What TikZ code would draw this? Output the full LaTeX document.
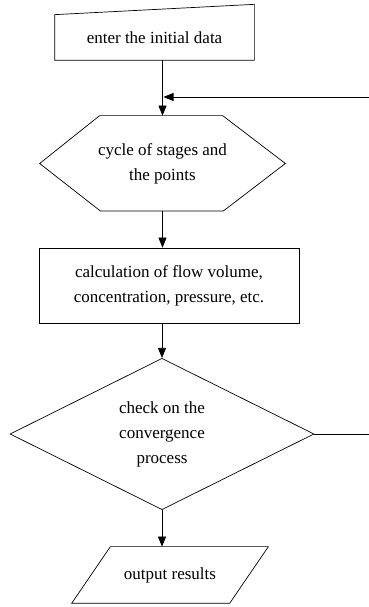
\documentclass[tikz,border=0pt]{standalone}
\usepackage{fontspec}
\setmainfont{Liberation Serif}
\usetikzlibrary{shapes, arrows.meta}

\begin{document}
\begin{tikzpicture}[x=1pt, y=1pt, line width=0.7pt,
  every node/.style={font=\fontsize{17}{25}\selectfont, align=center, inner sep=0pt},
  flow/.style={-{Triangle[length=10pt, width=8pt]}}]
\useasboundingbox (0,0) rectangle (368,607); %page size
\node[minimum width=199pt, minimum height=45pt] (input) at (154.5,569.5) {enter the initial data};
\node[minimum width=245pt, minimum height=95pt] (stages) at (162.5,443.5) {cycle of stages and\\the points};
\node[draw, minimum width=260pt, minimum height=75pt] (calc) at (169,321.5) {calculation of flow volume,\\concentration, pressure, etc.};
\node[draw, diamond, minimum width=304pt, minimum height=148pt] (check) at (162,173) {check on the\\convergence\\process};
\node[minimum width=196pt, minimum height=56pt] (output) at (170,32) {output results};
\coordinate (turn) at (380,510); %outside the page

% manual input, hexagon and parallelogram drawn by hand
\draw (input.south west) -- (input.south east) -- ++(0,56) -- (input.north west) -- cycle;
\draw (stages.north west) ++(60,0) -- ++(123,0) -- (stages.east) -- ++(-62,-47.5) -- ++(-123,0) -- (stages.west) -- cycle;
\draw (output.south west) -- ++(158,0) -- (output.north east) -- ++(-158,0) -- cycle;

\draw[flow] (stages.north |- input.south) -- (stages.north);
\draw[flow] (stages.south) -- (stages.south |- calc.north);
\draw[flow] (check.north |- calc.south) -- (check.north);
\draw[flow] (check.south) -- (check.south |- output.north);
\draw[flow] (check.east) -| (turn) -- ([xshift=1pt]stages.north |- turn);
\end{tikzpicture}
\end{document}
